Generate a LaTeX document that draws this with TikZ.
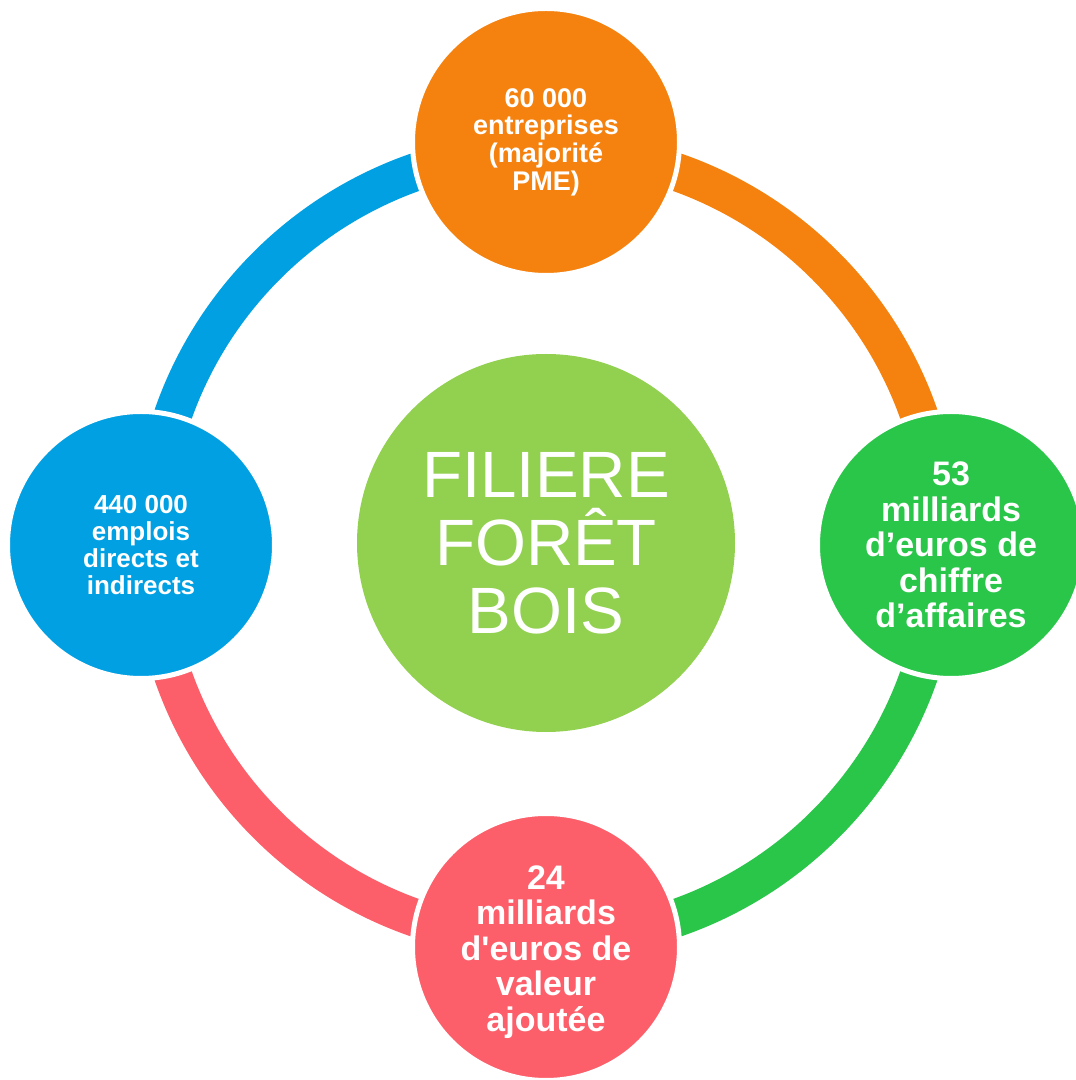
\documentclass[tikz,border=0pt]{standalone}
\usepackage{fontspec}
\setmainfont{Liberation Sans}
\newfontfamily\rawsans[Ligatures=TeXOff]{Liberation Sans}
\definecolor{corange}{HTML}{F5820F}
\definecolor{cgreen}{HTML}{29C64A}
\definecolor{cpink}{HTML}{FC5F6A}
\definecolor{cblue}{HTML}{00A0E3}
\definecolor{ccenter}{HTML}{92D050}
\begin{document}
\begin{tikzpicture}[x=1pt,y=1pt]
\tikzset{
  ring/.style={line width=38pt},
  sat/.style={circle, minimum size=267pt, inner sep=0pt, draw=white, line width=5pt,
    text=white, align=center},
  hub/.style={circle, minimum size=378pt, inner sep=0pt, fill=ccenter,
    text=white, align=center, font=\fontsize{65.5}{68}\selectfont},
}
\useasboundingbox (0,0) rectangle (1076,1080);
\clip (0,0) rectangle (1076,1080);
\coordinate (O) at (546,535);
\path (O) ++(180:395pt) coordinate (rL);
\path (O) ++(90:395pt) coordinate (rT);
\path (O) ++(0:395pt) coordinate (rR);
\path (O) ++(-90:395pt) coordinate (rB);
\draw[ring, cblue]   (rL) arc[start angle=180, end angle=90,   radius=395pt];
\draw[ring, corange] (rT) arc[start angle=90,  end angle=0,    radius=395pt];
\draw[ring, cgreen]  (rR) arc[start angle=0,   end angle=-90,  radius=395pt];
\draw[ring, cpink]   (rB) arc[start angle=-90, end angle=-180, radius=395pt];
\node[hub] (C) at (546,537) {FILIERE\\FORÊT\\BOIS};
\node[sat, fill=corange, font=\bfseries\fontsize{27}{27.7}\selectfont] (T) at (546,938)
  {60 000\\entreprises\\(majorité\\PME)};
\node[sat, fill=cgreen, font=\bfseries\fontsize{34}{35.5}\selectfont] (R) at (951,535)
  {53\\milliards\\d’euros de\\chiffre\\d’affaires};
\node[sat, fill=cpink, font=\bfseries\fontsize{34}{35.5}\selectfont] (B) at (546,133) {};
\node[text=white, align=center, inner sep=0pt, font=\bfseries\fontsize{34}{35.5}\selectfont]
  (Bt) at (546,128) {24\\milliards\\d{\rawsans\bfseries '}euros de\\valeur\\ajoutée};
\node[sat, fill=cblue, font=\bfseries\fontsize{26}{26.8}\selectfont] (L) at (141,535)
  {440 000\\emplois\\directs et\\indirects};
\end{tikzpicture}
\end{document}
